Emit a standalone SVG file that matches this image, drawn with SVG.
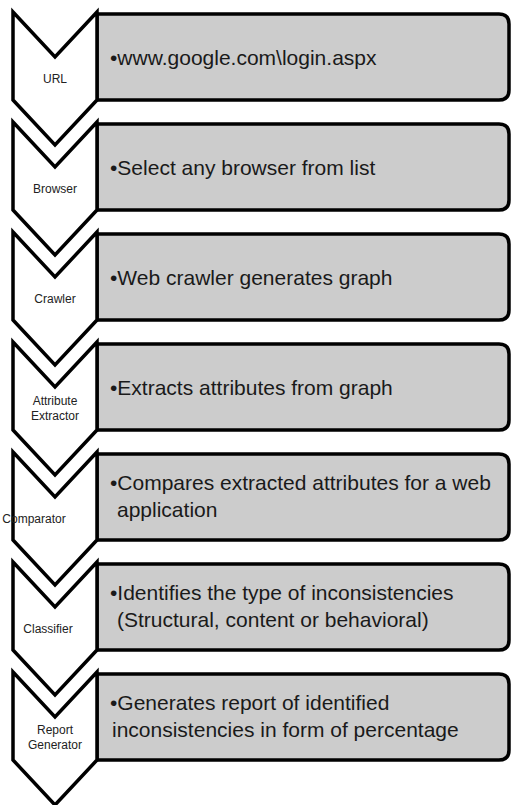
<svg xmlns="http://www.w3.org/2000/svg" width="511" height="805" viewBox="0 0 511 805">
<style>
.box{fill:#cccccc;stroke:#000;stroke-width:3.5;stroke-linejoin:round}
.chev{fill:#fff;stroke:#000;stroke-width:3.5;stroke-linejoin:miter}
.t{font-family:"Liberation Sans",Arial,sans-serif;font-size:21px;fill:#1a1a1a}
.l{font-family:"Liberation Sans",Arial,sans-serif;font-size:12px;fill:#222;text-anchor:middle}
</style>
<defs>
<path id="boxShape" d="M97,14 H499 Q509,14 509,24 V90 Q509,100 499,100 H97 Z"/>
<path id="chevShape" d="M13,12 L55,57 L97,12 L97,100 L55,145 L13,100 Z"/>
</defs>
<g id="step1">
<use href="#boxShape" class="box"/>
<use href="#chevShape" class="chev"/>
<text class="l" x="55" y="83">URL</text>
<text class="t" x="110" y="65">•www.google.com\login.aspx</text>
</g>
<g id="step2" transform="translate(0,110)">
<use href="#boxShape" class="box"/>
<use href="#chevShape" class="chev"/>
<text class="l" x="55" y="83">Browser</text>
<text class="t" x="110" y="65">•Select any browser from list</text>
</g>
<g id="step3" transform="translate(0,220)">
<use href="#boxShape" class="box"/>
<use href="#chevShape" class="chev"/>
<text class="l" x="55" y="83">Crawler</text>
<text class="t" x="110" y="65">•Web crawler generates graph</text>
</g>
<g id="step4" transform="translate(0,330)">
<use href="#boxShape" class="box"/>
<use href="#chevShape" class="chev"/>
<text class="l" x="55" y="75">Attribute</text>
<text class="l" x="55" y="90">Extractor</text>
<text class="t" x="110" y="65">•Extracts attributes from graph</text>
</g>
<g id="step5" transform="translate(0,440)">
<use href="#boxShape" class="box"/>
<use href="#chevShape" class="chev"/>
<text class="l" x="34" y="83">Comparator</text>
<text class="t" x="110" y="50">•Compares extracted attributes for a web</text>
<text class="t" x="117" y="77">application</text>
</g>
<g id="step6" transform="translate(0,550)">
<use href="#boxShape" class="box"/>
<use href="#chevShape" class="chev"/>
<text class="l" x="48" y="83">Classifier</text>
<text class="t" x="110" y="50">•Identifies the type of inconsistencies</text>
<text class="t" x="117" y="77">(Structural, content or behavioral)</text>
</g>
<g id="step7" transform="translate(0,660)">
<use href="#boxShape" class="box"/>
<use href="#chevShape" class="chev"/>
<text class="l" x="55" y="74">Report</text>
<text class="l" x="55" y="89">Generator</text>
<text class="t" x="110" y="50">•Generates report of identified</text>
<text class="t" x="112" y="77">inconsistencies in form of percentage</text>
</g>
<g id="connectors"></g>
</svg>
